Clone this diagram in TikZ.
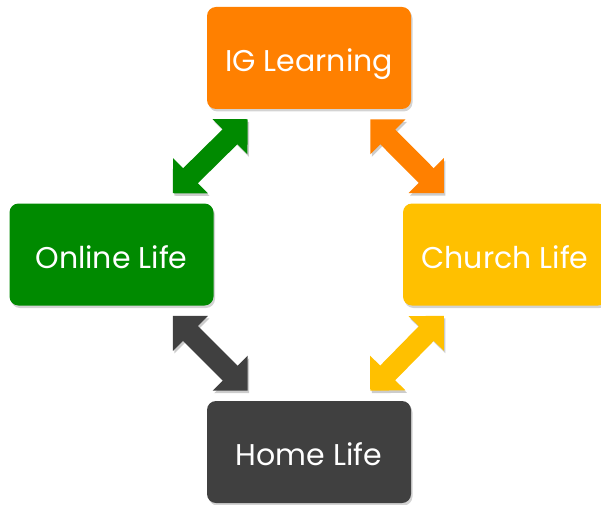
\documentclass[tikz,border=0pt]{standalone}
\usepackage{fontspec}
\setmainfont{Poppins}
\usepackage{tikz}
\usetikzlibrary{shapes,arrows.meta,calc,shadows}
\usepackage{xcolor}
\definecolor{igorange}{RGB}{255,128,0}
\definecolor{onlinegreen}{RGB}{0,138,0}
\definecolor{churchyellow}{RGB}{255,192,0}
\definecolor{homegray}{RGB}{64,64,64}

\begin{document}
\begin{tikzpicture}[x=1pt,y=1pt,
		lifebox/.style={rectangle,rounded corners=9pt,minimum width=204pt,minimum height=102pt,
			text=white,font=\fontsize{30}{36}\selectfont,text height=27pt,text depth=0pt,
			drop shadow={shadow xshift=1.5pt,shadow yshift=-2.5pt,opacity=0.35}},
		linkarrow/.style={line width=21pt,{Triangle[width=48pt,length=25pt]}-{Triangle[width=48pt,length=25pt]},
			preaction={draw=black,opacity=0.2,transform canvas={shift={(1.5pt,-2.5pt)}}}}]
		\useasboundingbox (0,0) rectangle (601,504);
		\def\ax{41}
		\def\ay{10}
		% the four boxes
		\node[lifebox,fill=igorange] (ig) at (309,446) {IG Learning};
		\node[lifebox,fill=onlinegreen] (online) at (111.5,249.5) {Online Life};
		\node[lifebox,fill=churchyellow] (church) at (505,249.5) {Church Life};
		\node[lifebox,fill=homegray] (home) at (309,52) {Home Life};
		% arrow ends
		\coordinate (g1) at ($(online.north east)+(-\ax,\ay)$);
		\coordinate (g2) at ($(ig.south west)+(\ax,-\ay)$);
		\coordinate (o1) at ($(ig.south east)+(-\ax,-\ay)$);
		\coordinate (o2) at ($(church.north west)+(\ax,\ay)$);
		\coordinate (d1) at ($(online.south east)+(-\ax,-\ay)$);
		\coordinate (d2) at ($(home.north west)+(\ax,\ay)$);
		\coordinate (y1) at ($(church.south west)+(\ax,-\ay)$);
		\coordinate (y2) at ($(home.north east)+(-\ax,\ay)$);
		% two-way links
		\draw[linkarrow,onlinegreen] (g1) -- (g2);
		\draw[linkarrow,igorange] (o1) -- (o2);
		\draw[linkarrow,homegray] (d1) -- (d2);
		\draw[linkarrow,churchyellow] (y1) -- (y2);
\end{tikzpicture}
\end{document}
